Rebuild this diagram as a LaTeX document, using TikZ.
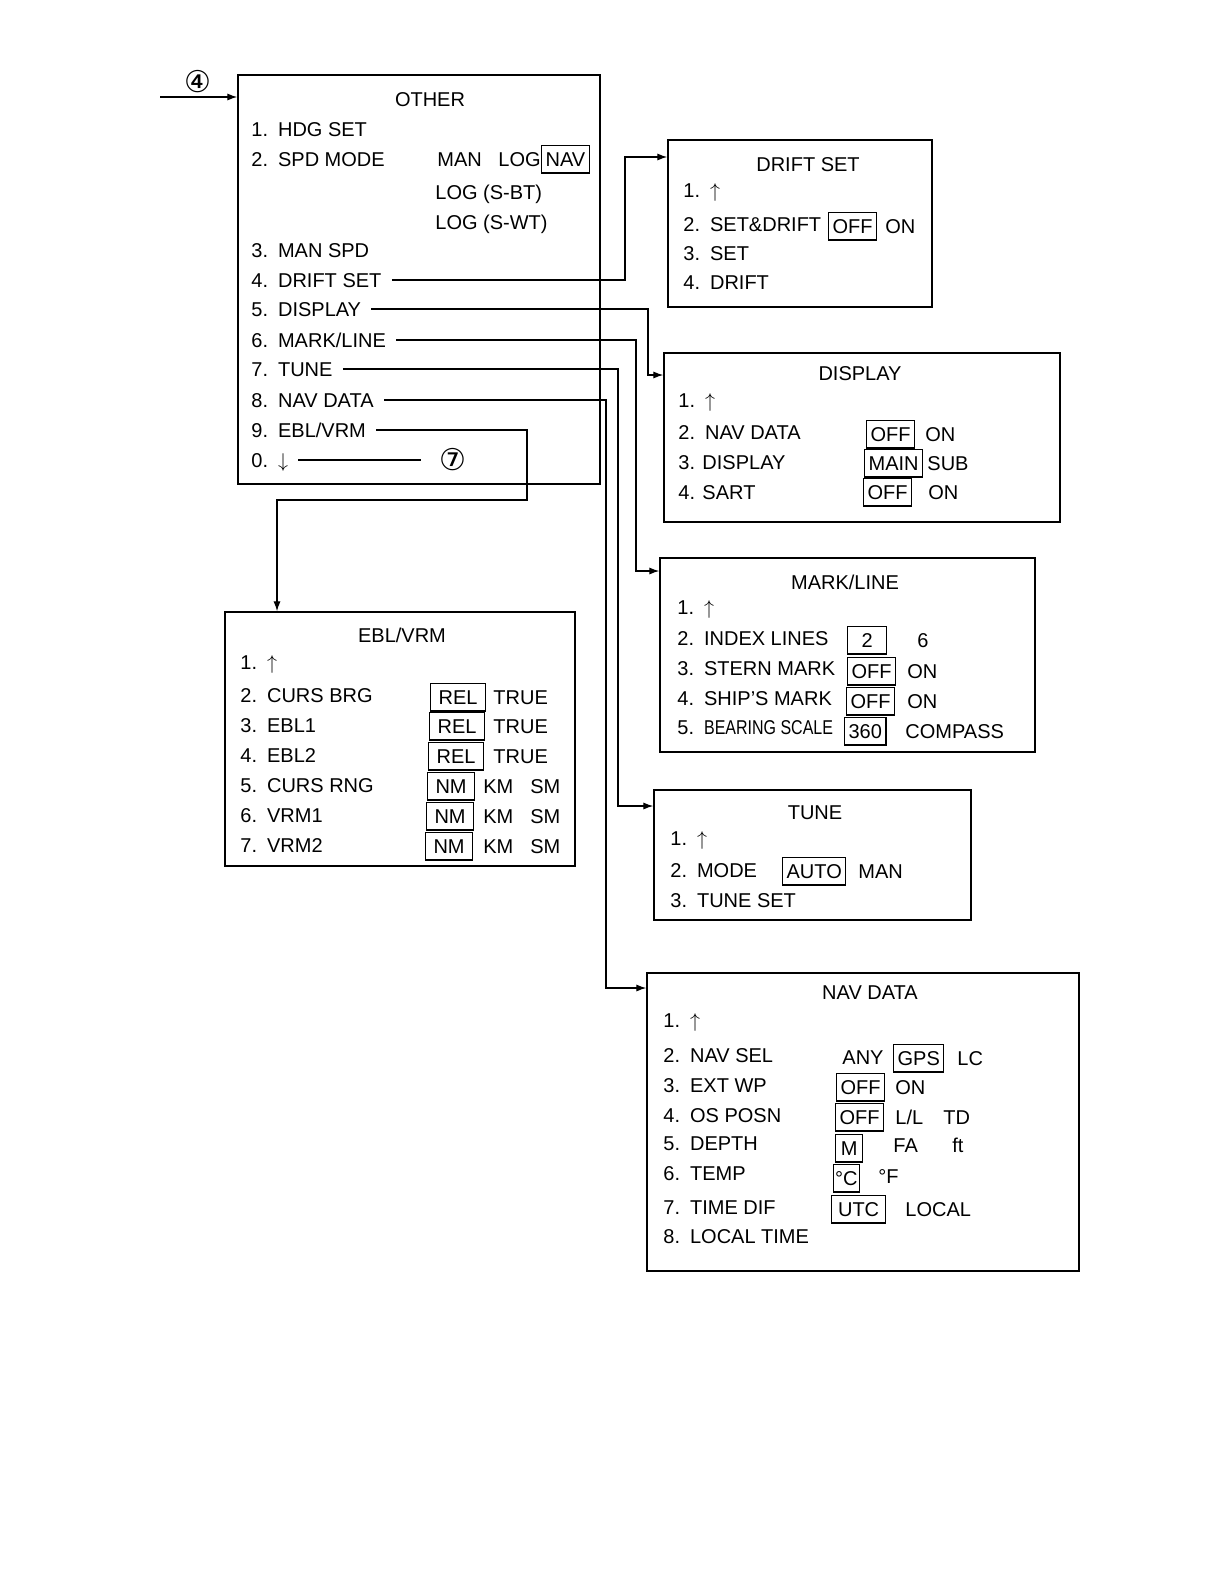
\documentclass[tikz,border=0pt]{standalone}
\usepackage{fontspec}
\usepackage{graphicx}
\setmainfont{Liberation Sans}
\newfontfamily\circfont{DejaVu Sans}
\usetikzlibrary{arrows.meta,positioning,fit}
\tikzset{
  mfrm/.style={draw, line width=0.75pt, inner sep=0pt},
  mttl/.style={text height=7.5pt, text depth=0pt, inner sep=0pt},
  mitm/.style={anchor=west, text height=7.5pt, text depth=0pt, inner xsep=2pt, inner ysep=3.2pt},
  msel/.style={mitm, draw, line width=0.6pt},
  marr/.style={-{Latex[length=5pt,width=3.6pt]}, line width=0.6pt, shorten <=3pt},
  mlin/.style={line width=0.6pt},
  mcirc/.style={font=\circfont\fontsize{15}{15}\selectfont, inner sep=1pt},
}

\begin{document}
\begin{tikzpicture}[x=0.5pt,y=-0.5pt]
\useasboundingbox (0,0) rectangle (1224,1584);
% OTHER
\node[mfrm, fit={(238,75) (600,484)}](other){};
\node[mttl](otherT) at (430,99){OTHER};
\node[mitm](o1) at (247,129){1.\enspace HDG SET};
\node[mitm](o2) at (247,159){2.\enspace SPD MODE};
\node[mitm](man) at (433,159){MAN};
\node[mitm](log) at (494,159){LOG};
\node[msel](navsel) at (541,159){NAV};
\node[mitm](logbt) at (431,192){LOG (S-BT)};
\node[mitm](logwt) at (431,222){LOG (S-WT)};
\node[mitm](o3) at (247,250){3.\enspace MAN SPD};
\node[mitm](o4) at (247,280){4.\enspace DRIFT SET};
\node[mitm](o5) at (247,309){5.\enspace DISPLAY};
\node[mitm](o6) at (247,340){6.\enspace MARK/LINE};
\node[mitm](o7) at (247,369){7.\enspace TUNE};
\node[mitm](o8) at (247,400){8.\enspace NAV DATA};
\node[mitm](o9) at (247,430){9.\enspace EBL/VRM};
\node[mitm](o0) at (247,460){0.\enspace$\downarrow$};
\node[mcirc](c4) at (198,82){④};
\node[mcirc](c7) at (453,460){⑦};
\coordinate(inA) at (160,97);
% DRIFT SET
\node[mfrm, fit={(668,140) (932,307)}](drift){};
\node[mttl](driftT) at (808,164){DRIFT SET};
\node[mitm](d1) at (679,190){1.\enspace$\uparrow$};
\node[mitm](d2) at (679,224){2.\enspace SET\&DRIFT};
\node[msel](d2a) at (828,226){OFF};
\node[mitm](d2b) at (881,226){ON};
\node[mitm](d3) at (679,253){3.\enspace SET};
\node[mitm](d4) at (679,282){4.\enspace DRIFT};
% DISPLAY
\node[mfrm, fit={(664,353) (1060,522)}](disp){};
\node[mttl](dispT) at (860,373){DISPLAY};
\node[mitm](s1) at (674,400){1.\enspace$\uparrow$};
\node[mitm](s2) at (674,432){2.\enspace NAV DATA};
\node[msel](s2a) at (866,434){OFF};
\node[mitm](s2b) at (921,434){ON};
\node[mitm](s3) at (674,462){3. DISPLAY};
\node[msel](s3a) at (864,463){MAIN};
\node[mitm](s3b) at (923,463){SUB};
\node[mitm](s4) at (674,492){4. SART};
\node[msel](s4a) at (863,492){OFF};
\node[mitm](s4b) at (924,492){ON};
% MARK/LINE
\node[mfrm, fit={(660,558) (1035,752)}](mark){};
\node[mttl](markT) at (845,582){MARK/LINE};
\node[mitm](m1) at (673,607){1.\enspace$\uparrow$};
\node[mitm](m2) at (673,638){2.\enspace INDEX LINES};
\node[msel, minimum width=19.5pt](m2a) at (847,640){2};
\node[mitm](m2b) at (913,640){6};
\node[mitm](m3) at (673,668){3.\enspace STERN MARK};
\node[msel](m3a) at (847,671){OFF};
\node[mitm](m3b) at (903,671){ON};
\node[mitm](m4) at (673,698){4.\enspace SHIP'S MARK};
\node[msel](m4a) at (846,701){OFF};
\node[mitm](m4b) at (903,701){ON};
\node[mitm](m5) at (673,727){5.\enspace\scalebox{0.8}[1]{BEARING SCALE}};
\node[msel](m5a) at (844,731){360};
\node[mitm](m5b) at (901,731){COMPASS};
% TUNE
\node[mfrm, fit={(654,790) (971,920)}](tune){};
\node[mttl](tuneT) at (815,812){TUNE};
\node[mitm](t1) at (666,838){1.\enspace$\uparrow$};
\node[mitm](t2) at (666,870){2.\enspace MODE};
\node[msel](t2a) at (782,871){AUTO};
\node[mitm](t2b) at (854,871){MAN};
\node[mitm](t3) at (666,900){3.\enspace TUNE SET};
% NAV DATA
\node[mfrm, fit={(647,973) (1079,1271)}](nav){};
\node[mttl](navT) at (870,992){NAV DATA};
\node[mitm](n1) at (659,1020){1.\enspace$\uparrow$};
\node[mitm](n2) at (659,1055){2.\enspace NAV SEL};
\node[mitm](n2a) at (838,1057){ANY};
\node[msel](n2b) at (893,1058){GPS};
\node[mitm](n2c) at (953,1058){LC};
\node[mitm](n3) at (659,1085){3.\enspace EXT WP};
\node[msel](n3a) at (836,1087){OFF};
\node[mitm](n3b) at (891,1087){ON};
\node[mitm](n4) at (659,1115){4.\enspace OS POSN};
\node[msel](n4a) at (835,1117){OFF};
\node[mitm](n4b) at (891,1117){L/L};
\node[mitm](n4c) at (939,1117){TD};
\node[mitm](n5) at (659,1143){5.\enspace DEPTH};
\node[msel, minimum width=13.5pt](n5a) at (835,1148){M};
\node[mitm](n5b) at (889,1145){FA};
\node[mitm](n5c) at (948,1145){ft};
\node[mitm](n6) at (659,1173){6.\enspace TEMP};
\node[msel, inner xsep=0.8pt](n6a) at (833,1178){°C};
\node[mitm](n6b) at (874,1176){°F};
\node[mitm](n7) at (659,1207){7.\enspace TIME DIF};
\node[msel, minimum width=27pt](n7a) at (831,1209){UTC};
\node[mitm](n7b) at (901,1209){LOCAL};
\node[mitm](n8) at (659,1236){8.\enspace LOCAL TIME};
% EBL/VRM
\node[mfrm, fit={(225,612) (575,866)}](ebl){};
\node[mttl](eblT) at (402,635){EBL/VRM};
\node[mitm](e1) at (236,662){1.\enspace$\uparrow$};
\node[mitm](e2) at (236,695){2.\enspace CURS BRG};
\node[msel, minimum width=27.5pt](e2a) at (430,697){REL};
\node[mitm](e2b) at (489,697){TRUE};
\node[mitm](e3) at (236,725){3.\enspace EBL1};
\node[msel, minimum width=27.5pt](e3a) at (429,726){REL};
\node[mitm](e3b) at (489,726){TRUE};
\node[mitm](e4) at (236,755){4.\enspace EBL2};
\node[msel, minimum width=27.5pt](e4a) at (428,756){REL};
\node[mitm](e4b) at (489,756){TRUE};
\node[mitm](e5) at (236,785){5.\enspace CURS RNG};
\node[msel, minimum width=23.5pt](e5a) at (427,786){NM};
\node[mitm](e5b) at (479,786){KM};
\node[mitm](e5c) at (526,786){SM};
\node[mitm](e6) at (236,815){6.\enspace VRM1};
\node[msel, minimum width=23.5pt](e6a) at (426,816){NM};
\node[mitm](e6b) at (479,816){KM};
\node[mitm](e6c) at (526,816){SM};
\node[mitm](e7) at (236,845){7.\enspace VRM2};
\node[msel, minimum width=23.5pt](e7a) at (425,846){NM};
\node[mitm](e7b) at (479,846){KM};
\node[mitm](e7c) at (526,846){SM};
% connectors
\draw[marr, shorten <=0pt](inA)--(other.west |- inA);
\draw[marr](o4.east) -| (625,157) -- (drift.west |- 0,157);
\draw[marr](o5.east) -| (648,375) -- (disp.west |- 0,375);
\draw[marr](o6.east) -| (636,571) -- (mark.west |- 0,571);
\draw[marr](o7.east) -| (618,806) -- (tune.west |- 0,806);
\draw[marr](o8.east) -| (606,988) -- (nav.west |- 0,988);
\draw[marr](o9.east) -| (527,500) -| (ebl.north -| 277,0);
\draw[mlin, shorten <=3pt, shorten >=8pt](o0.east)--(c7.west);
\end{tikzpicture}
\end{document}
